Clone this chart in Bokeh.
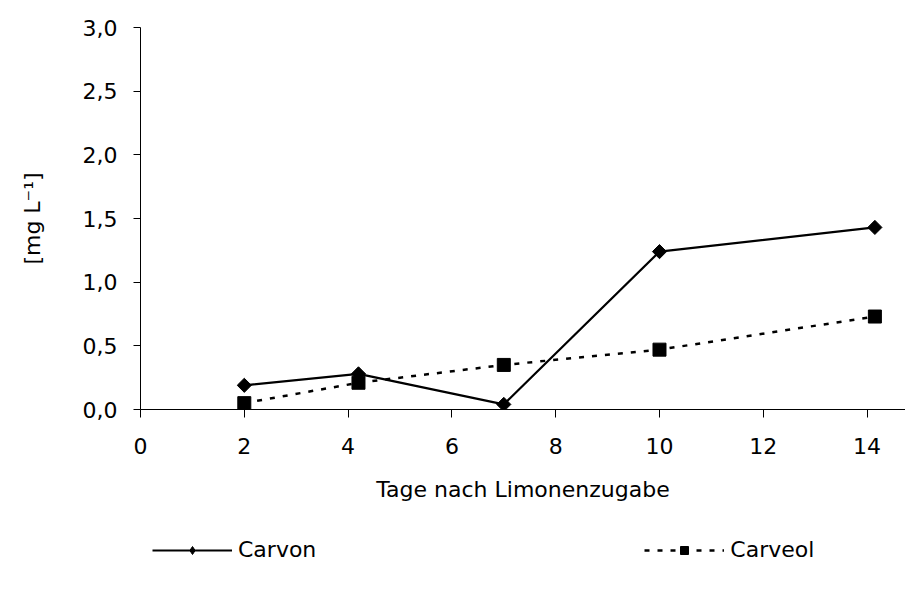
from bokeh.plotting import figure
from bokeh.layouts import column
from bokeh.models import (ColumnDataSource, FixedTicker, CustomJSTickFormatter,
                          Legend, LegendItem, Range1d)
from bokeh.embed import file_html
from bokeh.resources import INLINE

# ---- data ----
carvon_days = [2.0, 4.2, 7.0, 10.0, 14.15]
carvon_vals = [0.19, 0.28, 0.04, 1.24, 1.43]
carveol_days = [2.0, 4.2, 7.0, 10.0, 14.15]
carveol_vals = [0.05, 0.21, 0.35, 0.47, 0.73]
x_ticks = [0, 2, 4, 6, 8, 10, 12, 14]
y_ticks = [0.0, 0.5, 1.0, 1.5, 2.0, 2.5, 3.0]
x_label = "Tage nach Limonenzugabe"
y_label = "[mg L\u207b\u00b9]"
series_names = ["Carvon", "Carveol"]

FONT = "DejaVu Sans"
FS = "22px"

W = 905
H_MAIN = 520
H_LEG = 69

p = figure(width=W, height=H_MAIN, output_backend="svg", toolbar_location=None,
           x_range=Range1d(0, 14.74), y_range=Range1d(0, 3.0),
           min_border_left=140, min_border_right=0, min_border_top=27,
           min_border_bottom=H_MAIN - 27 - 382)
p.outline_line_color = None
p.xgrid.visible = False
p.ygrid.visible = False
p.background_fill_color = "white"
p.border_fill_color = "white"

src_a = ColumnDataSource(dict(x=carvon_days, y=carvon_vals))
src_b = ColumnDataSource(dict(x=carveol_days, y=carveol_vals))

p.line("x", "y", source=src_a, line_color="black", line_width=2.2)
p.scatter("x", "y", source=src_a, marker="square", angle=0.7853981634,
          size=10, fill_color="black", line_color="black")
p.line("x", "y", source=src_b, line_color="black", line_width=2.5,
       line_dash="5 8")
p.scatter("x", "y", source=src_b, marker="square", size=13,
          fill_color="black", line_color="black")

fmt = CustomJSTickFormatter(code="return tick.toFixed(1).replace('.', ',');")

for ax in (p.xaxis[0], p.yaxis[0]):
    ax.major_label_text_font = FONT
    ax.major_label_text_font_size = FS
    ax.major_label_text_color = "black"
    ax.axis_label_text_font = FONT
    ax.axis_label_text_font_size = FS
    ax.axis_label_text_font_style = "normal"
    ax.axis_label_text_color = "black"
    ax.axis_line_color = "black"
    ax.major_tick_line_color = "black"
    ax.minor_tick_line_color = None
    ax.major_tick_in = 0

p.xaxis.ticker = FixedTicker(ticks=x_ticks)
p.yaxis.ticker = FixedTicker(ticks=y_ticks)
p.yaxis.formatter = fmt
p.xaxis.major_tick_out = 8
p.yaxis.major_tick_out = 7
p.xaxis.major_label_standoff = 20
p.yaxis.major_label_standoff = 16
p.xaxis.axis_label = x_label
p.yaxis.axis_label = y_label
p.xaxis.axis_label_standoff = 20
p.yaxis.axis_label_standoff = 35

# ---- legend strip below the chart ----
lg = figure(width=W, height=H_LEG, output_backend="svg", toolbar_location=None,
            x_range=Range1d(1000, 1001), y_range=Range1d(1000, 1001),
            x_axis_location=None, y_axis_location=None,
            min_border=0)
lg.outline_line_color = None
lg.xgrid.visible = False
lg.ygrid.visible = False
lg.background_fill_color = "white"
lg.border_fill_color = "white"

# same series, drawn outside the strip's visible range -> only legend samples show
lla = lg.line("x", "y", source=src_a, line_color="black", line_width=2.2)
lsa = lg.scatter("x", "y", source=src_a, marker="diamond",
                 size=16, fill_color="black", line_color="black")
llb = lg.line("x", "y", source=src_b, line_color="black", line_width=2.5,
              line_dash="5 8")
lsb = lg.scatter("x", "y", source=src_b, marker="square", size=11,
                 fill_color="black", line_color="black")

legend = Legend(items=[LegendItem(label=series_names[0], renderers=[lla, lsa]),
                       LegendItem(label=series_names[1], renderers=[llb, lsb])],
                orientation="horizontal", location=(12, 27), margin=0,
                padding=0, spacing=328, glyph_width=80, glyph_height=20,
                label_height=20, label_standoff=6, label_text_font=FONT,
                label_text_font_size=FS, label_text_color="black",
                border_line_color=None, background_fill_alpha=0)
lg.add_layout(legend)

layout = column(p, lg, spacing=0)
open("out.html", "w").write(file_html(layout, INLINE))
